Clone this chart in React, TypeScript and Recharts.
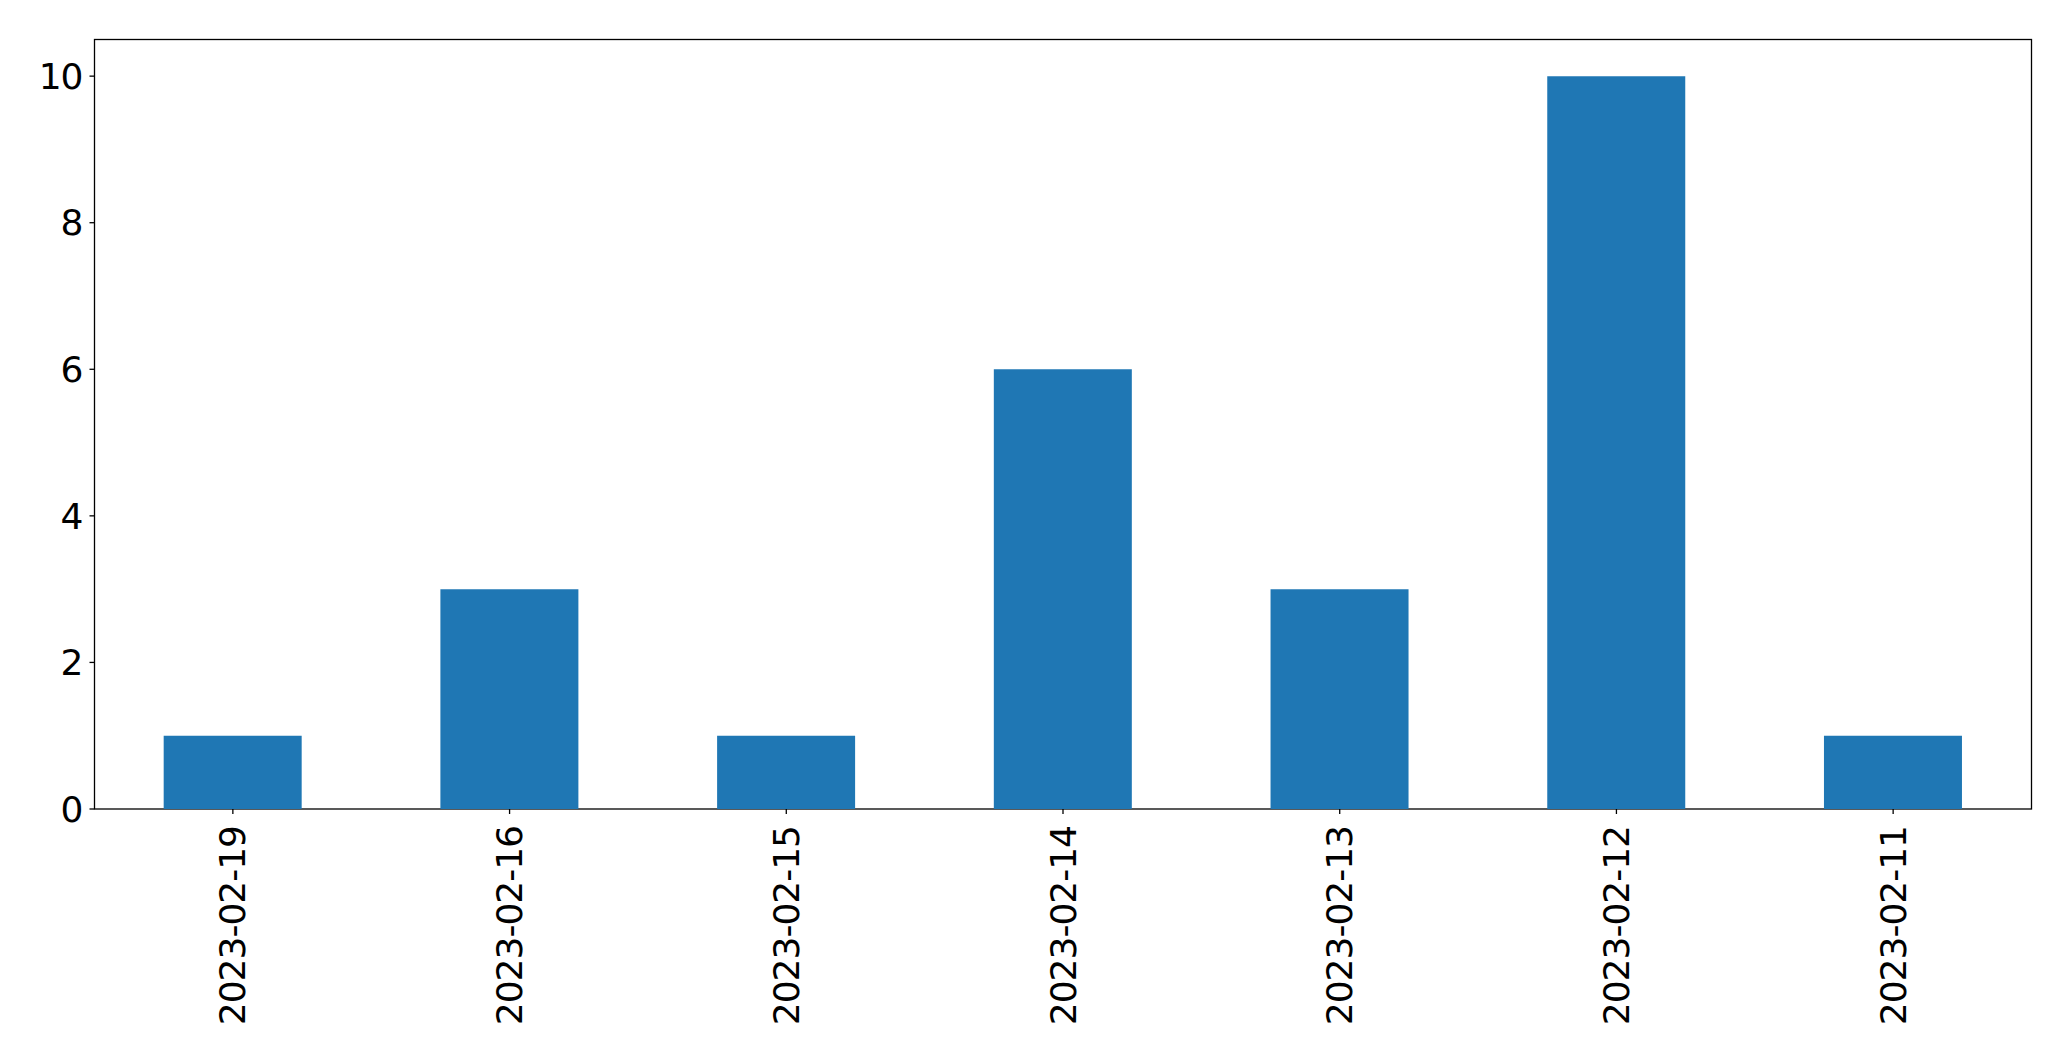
import { BarChart, Bar, XAxis, YAxis, usePlotArea } from 'recharts'

const dates = ['2023-02-19', '2023-02-16', '2023-02-15', '2023-02-14', '2023-02-13', '2023-02-12', '2023-02-11']
const counts = [1, 3, 1, 6, 3, 10, 1]
const yTicks = [0, 2, 4, 6, 8, 10]

const data = dates.map((d, i) => ({ date: d, count: counts[i] }))

const FONT = 'DejaVu Sans'
const FS = 36

function DateTick({ x, y, payload }: any) {
  return (
    <text
      x={0}
      y={0}
      transform={`translate(${x},${y}) rotate(-90)`}
      textAnchor="end"
      dominantBaseline="central"
      fontSize={FS}
      fontFamily={FONT}
      letterSpacing={-1}
      fill="#000"
    >
      {payload.value}
    </text>
  )
}

// plot frame (matplotlib spines)
function Frame() {
  const p = usePlotArea()
  if (!p) return null
  return <rect x={p.x} y={p.y} width={p.width} height={p.height} fill="none" stroke="#000" strokeWidth={1.3} />
}

export default function App() {
  return (
    <div style={{ position: 'absolute', left: 0, top: 0, width: 2071, height: 1061, background: '#fff' }}>
      <BarChart
        width={2071}
        height={1061}
        data={data}
        margin={{ top: 39.5, right: 39.5, left: 14.5, bottom: 12 }}
        barCategoryGap="25%"
      >
        <XAxis
          dataKey="date"
          height={240}
          interval={0}
          tick={<DateTick />}
          tickSize={5}
          tickMargin={12}
          axisLine={false}
          tickLine={{ stroke: '#000', strokeWidth: 1.3 }}
        />
        <YAxis
          width={80}
          domain={[0, 10.5]}
          ticks={yTicks}
          tickSize={5}
          tickMargin={7}
          tick={{ fontSize: FS, fill: '#000', fontFamily: FONT, letterSpacing: -1 }}
          axisLine={false}
          tickLine={{ stroke: '#000', strokeWidth: 1.3 }}
        />
        <Bar dataKey="count" fill="#1f77b4" isAnimationActive={false} />
        <Frame />
      </BarChart>
    </div>
  )
}
